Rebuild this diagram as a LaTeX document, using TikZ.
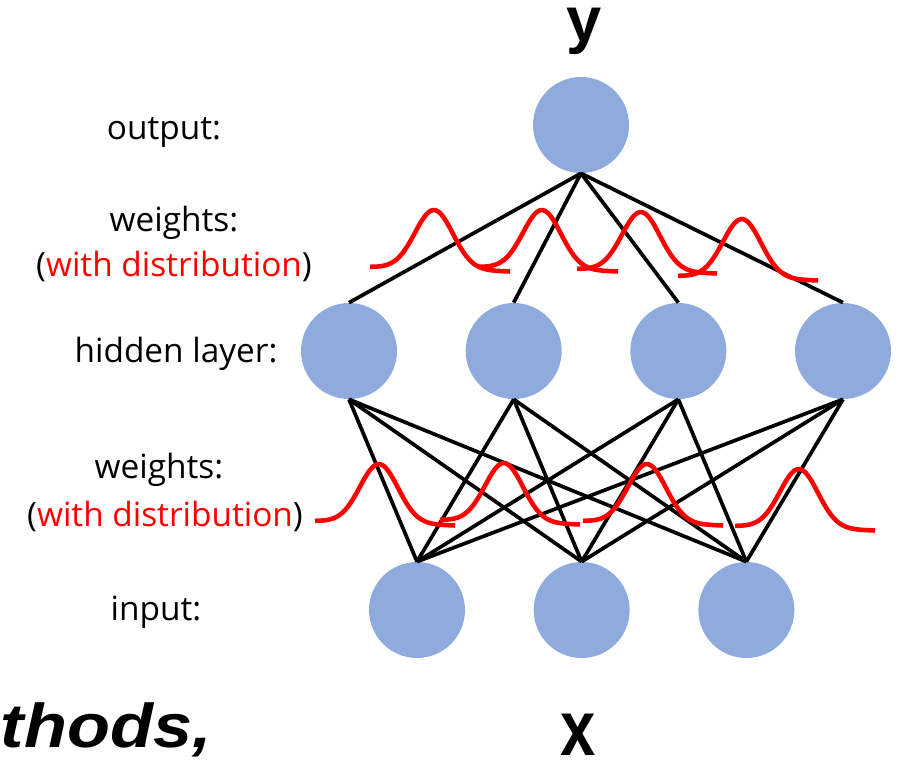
\documentclass[tikz,border=0pt]{standalone}
\usepackage{fontspec}
\setmainfont{Open Sans}
\newfontfamily\arialfont{Liberation Sans}
\usepackage{xcolor}
\usetikzlibrary{positioning}
\definecolor{neuronblue}{HTML}{8FAADC}

\begin{document}
\begin{tikzpicture}[
  x=0.02cm, y=-0.02cm,
  node distance=1.36cm,
  every node/.style={font=\fontsize{19}{23}\selectfont},
  neuron/.style={circle, fill=neuronblue, minimum size=1.92cm, inner sep=0pt},
  layertext/.style={anchor=base, inner sep=0pt},
  varname/.style={anchor=base, inner sep=0pt, font=\arialfont\bfseries\fontsize{36}{40}\selectfont},
  conn/.style={line width=2.1pt},
  dist/.style={line width=2.6pt, red},
]
\useasboundingbox (0,0) rectangle (902,763);

% neurons
\node[neuron] (out) at (581,125) {};
\node[neuron] (h1) at (349,351) {};
\node[neuron, right=of h1] (h2) {};
\node[neuron, right=of h2] (h3) {};
\node[neuron, right=of h3] (h4) {};
\node[neuron] (in1) at (417,610) {};
\node[neuron, right=of in1] (in2) {};
\node[neuron, right=of in2] (in3) {};

% weights
\foreach \h in {h1,h2,h3,h4}
  \draw[conn] (out.south) -- (\h.north);
\foreach \h in {h1,h2,h3,h4}
  \foreach \i in {in1,in2,in3}
    \draw[conn] (\h.south) -- (\i.north);

% weight distributions
\foreach \bx/\by in {370/267, 478/267, 577/269, 678/276, 315/521, 440/520, 583/521, 735/526}
  \draw[dist] plot[domain=0:140, samples=70, smooth]
    ({\bx+\x}, {\by + 4.5*\x/140 - 59*exp(-((\x-64)^2)/722)});

% labels
\node[layertext] (outtxt) at (164,140) {output:};
\node[layertext] (w1txt) at (174,232) {weights:};
\node[layertext] (d1txt) at (174,277) {(\textcolor{red}{with distribution})};
\node[layertext] (hidtxt) at (176,362) {hidden layer:};
\node[layertext] (w2txt) at (159,478) {weights:};
\node[layertext] (d2txt) at (165,526) {(\textcolor{red}{with distribution})};
\node[layertext] (intxt) at (156,620) {input:};

\node[varname] (ytxt) at (584,42) {y};
\node[varname] (xtxt) at (578,755) {\scalebox{1}[1.24]{x}};
\node[varname, anchor=base east, font=\arialfont\bfseries\itshape\fontsize{40}{44}\selectfont] (cuttxt) at (212,747) {\scalebox{1}[0.88]{thods,}};
\end{tikzpicture}
\end{document}
